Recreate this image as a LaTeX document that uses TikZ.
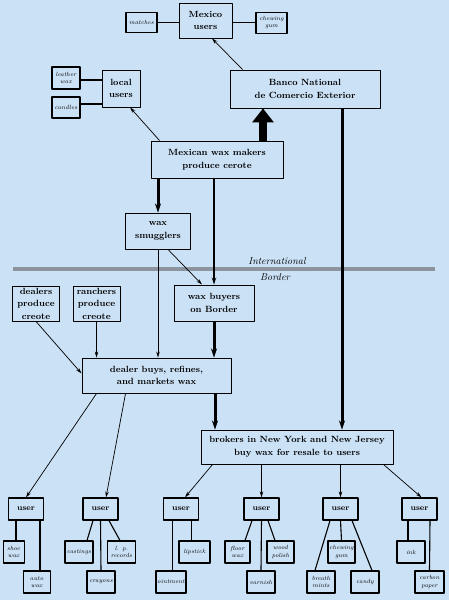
\documentclass[tikz,border=0pt]{standalone}
\usetikzlibrary{arrows.meta}
\definecolor{paper}{RGB}{203,225,245}
\definecolor{borderline}{RGB}{140,148,160}
\tikzset{
	box/.style={draw, line width=0.9pt, align=center, inner sep=1pt, font=\fontsize{9}{12.5}\selectfont\bfseries},
	userbox/.style={draw, line width=1.2pt, minimum width=35pt, minimum height=22pt, inner sep=1pt, font=\fontsize{8}{9}\selectfont\bfseries},
	item/.style={draw, line width=1.1pt, align=center, inner sep=0.5pt, minimum width=28pt, minimum height=22pt, font=\fontsize{6}{7.5}\selectfont\itshape},
	flow/.style={-{Stealth[length=6pt,width=3.5pt]}, line width=0.7pt},
	midflow/.style={-{Stealth[length=7pt,width=4.5pt]}, line width=1.7pt},
	heavy/.style={-{Stealth[length=9pt,width=6pt]}, line width=3pt},
	tie/.style={line width=1.1pt}
}
\begin{document}
\begin{tikzpicture}[x=1pt, y=-1pt, line join=round]
		\def\yuser{509} \def\yprodA{552} \def\yprodB{582}
		\fill[paper] (0,0) rectangle (449,600);
		\useasboundingbox (0,0) rectangle (449,600);
		% the border between Mexico and the US
		\draw[borderline, line width=4pt] (13,269) -- (435,269);
		\node[font=\fontsize{10}{11}\selectfont\itshape] (intl) at (277,261) {International};
		\node[font=\fontsize{10}{11}\selectfont\itshape] (border) at (275,277) {Border};

		\node[box, minimum width=53pt, minimum height=35pt] (mexico) at (205.5,20.5) {Mexico\\users};
		\node[item, minimum width=31pt, minimum height=20pt] (matches) at (141.5,22.7) {matches};
		\node[item, minimum width=31pt, minimum height=21pt] (chewtop) at (271.5,22.7) {chewing\\gum};
		\node[box, minimum width=38pt, minimum height=37pt] (local) at (121,88.5) {local\\users};
		\node[item, minimum height=22pt] (leather) at (66,78) {leather\\wax};
		\node[item, minimum height=21pt] (candles) at (66,107.5) {candles};
		\node[box, minimum width=150pt, minimum height=38pt] (banco) at (305,89) {Banco National\\de Comercio Exterior};
		\node[box, minimum width=132pt, minimum height=37pt] (makers) at (217,159.5) {Mexican wax makers\\produce cerote};
		\node[box, minimum width=65pt, minimum height=36pt] (smug) at (158,231) {wax\\smugglers};
		\node[box, minimum width=80pt, minimum height=36pt] (buyers) at (214,303) {wax buyers\\on Border};
		\node[box, minimum width=47pt, minimum height=35pt] (dealers) at (36,303.5) {dealers\\produce\\creote};
		\node[box, minimum width=47pt, minimum height=35pt] (ranchers) at (96.5,303.5) {ranchers\\produce\\creote};
		\node[box, minimum width=149pt, minimum height=35pt] (dealer) at (156.5,375.5) {dealer buys, refines,\\and markets wax};
		\node[box, minimum width=192pt, minimum height=34pt] (brokers) at (297,447) {brokers in New York and New Jersey\\buy wax for resale to users};

		\node[userbox] (u1) at (26,\yuser) {user};
		\node[userbox] (u2) at (100.5,\yuser) {user};
		\node[userbox] (u3) at (181,\yuser) {user};
		\node[userbox] (u4) at (261.5,\yuser) {user};
		\node[userbox] (u5) at (340.5,\yuser) {user};
		\node[userbox] (u6) at (419.5,\yuser) {user};

		\node[item, minimum width=21pt] (shoe) at (13.7,\yprodA) {shoe\\wax};
		\node[item, minimum width=27pt] (auto) at (36.7,\yprodB) {auto\\wax};
		\node[item] (cast) at (79,\yprodA) {castings};
		\node[item] (lp) at (121.5,\yprodA) {l. p.\\records};
		\node[item] (crayons) at (101,\yprodB) {crayons};
		\node[item, minimum width=30pt] (oint) at (171,\yprodB) {ointment};
		\node[item, minimum width=31pt] (lip) at (194.5,\yprodA) {lipstick};
		\node[item, minimum width=25pt] (floor) at (237.5,\yprodA) {floor\\wax};
		\node[item, minimum width=27pt] (wood) at (280.5,\yprodA) {wood\\polish};
		\node[item] (varnish) at (261,\yprodB) {varnish};
		\node[item, minimum width=27pt] (gum) at (341.5,\yprodA) {chewing\\gum};
		\node[item] (mints) at (321,\yprodB) {breath\\mints};
		\node[item] (candy) at (365,\yprodB) {candy};
		\node[item] (ink) at (411,\yprodA) {ink};
		\node[item, minimum width=29pt] (carbon) at (429.5,\yprodB) {carbon\\paper};

		\draw[tie] (matches.east) -- (matches.east -| mexico.west);
		\draw[tie] (chewtop.west) -- (chewtop.west -| mexico.east);
		\draw[tie] ([yshift=-2pt]leather.east) -- ([yshift=-2pt]leather.east -| local.west);
		\draw[tie] ([yshift=3.5pt]candles.east) -- ([yshift=3.5pt]candles.east -| local.west);

		\coordinate (bup) at ([xshift=46pt]makers.north);
		\coordinate (bdown) at ([xshift=37pt]banco.south);
		\coordinate (dfall) at ([xshift=58.5pt]dealer.south);
		\draw[line width=8pt, -{Triangle[length=14pt,width=21pt]}] (bup) -- (bup |- banco.south);
		\draw[heavy] (bdown) -- (bdown |- brokers.north);
		\draw[flow] ([xshift=13pt]banco.north west) -- ([xshift=6.5pt]mexico.south);
		\draw[flow] ([xshift=9pt]makers.north west) -- ([xshift=9pt]local.south);
		\draw[heavy] (makers.south -| smug) -- (smug.north);
		\draw[midflow] (makers.south -| buyers) -- (buyers.north);
		\draw[flow] ([xshift=10pt]smug.south) -- ([xshift=-12pt]buyers.north);
		\draw[flow] (smug.south) -- (smug.south |- dealer.north);
		\draw[flow] (dealers.south) -- ([yshift=2pt]dealer.west);
		\draw[flow] (ranchers.south) -- (ranchers.south |- dealer.north);
		\draw[heavy] (buyers.south) -- (buyers.south |- dealer.north);
		\draw[heavy] (dfall) -- (dfall |- brokers.north);

		\draw[flow] ([xshift=15pt]dealer.south west) -- (u1.north);
		\draw[flow] ([xshift=44pt]dealer.south west) -- ([xshift=5.5pt]u2.north);
		\draw[flow] ([xshift=12pt]brokers.south west) -- ([xshift=4pt]u3.north);
		\draw[flow] (u4.north |- brokers.south) -- (u4.north);
		\draw[flow] (u5.north |- brokers.south) -- (u5.north);
		\draw[flow] ([xshift=-10pt]brokers.south east) -- ([xshift=2pt]u6.north);

		\draw[tie] ([xshift=-10pt]u1.south) -- ([xshift=2.3pt]shoe.north);
		\draw[tie] ([xshift=14pt]u1.south) -- ([xshift=3.3pt]auto.north);
		\draw[tie] ([xshift=-7.5pt]u2.south) -- ([xshift=8pt]cast.north);
		\draw[tie] (u2.south) -- (crayons.north);
		\draw[tie] ([xshift=8.5pt]u2.south) -- ([xshift=-1.5pt]lp.north);
		\draw[tie] ([xshift=-8.5pt]u3.south) -- ([xshift=1.5pt]oint.north);
		\draw[tie] ([xshift=10.5pt]u3.south) -- ([xshift=-3pt]lip.north);
		\draw[tie] ([xshift=-9.5pt]u4.south) -- ([xshift=7.5pt]floor.north);
		\draw[tie] (u4.south) -- (varnish.north);
		\draw[tie] ([xshift=6.5pt]u4.south) -- ([xshift=-5.5pt]wood.north);
		\draw[tie] ([xshift=-10.5pt]u5.south) -- ([xshift=-6pt]mints.north);
		\draw[tie] (u5.south) -- (gum.north);
		\draw[tie] ([xshift=11.5pt]u5.south) -- ([xshift=7pt]candy.north);
		\draw[tie] ([xshift=-11.5pt]u6.south) -- ([xshift=-3pt]ink.north);
		\draw[tie] ([xshift=10.5pt]u6.south) -- (carbon.north);
	\end{tikzpicture}
\end{document}
